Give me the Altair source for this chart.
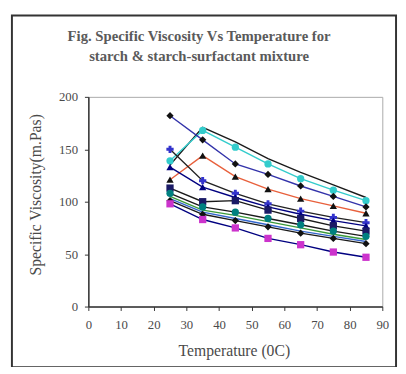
import altair as alt
import pandas as pd

temps = [25, 35, 45, 55, 65, 75, 85]

s01 = [135, 171, 157, 141, 128, 116, 104]
s02 = [139, 168, 152, 136, 122, 111, 101]
s03 = [182, 159, 136, 126, 115, 105, 95]
s04 = [121, 144, 124, 112, 103, 96, 89]
s05 = [150, 120, 108, 98, 91, 85, 80]
s06 = [133, 114, 104, 95, 88, 82, 77]
s07 = [113, 100, 101, 92, 84, 77, 72]
s08 = [108, 95, 90, 84, 78, 72, 67]
s09 = [105, 92, 87, 81, 75, 69, 64]
s10 = [103, 90, 84, 78, 72, 67, 62]
s11 = [101, 88, 82, 76, 70, 65, 60]
s12 = [98, 83, 75, 65, 59, 52, 47]

x_ticks = [0, 10, 20, 30, 40, 50, 60, 70, 80, 90]
y_ticks = [0, 50, 100, 150, 200]

names = ["s01", "s02", "s03", "s04", "s05", "s06", "s07", "s08", "s09", "s10", "s11", "s12"]
values = [s01, s02, s03, s04, s05, s06, s07, s08, s09, s10, s11, s12]
line_colors = ["#1a1a1a", "#33cccc", "#3333aa", "#e8603c", "#222222", "#000080",
               "#1a1a1a", "#1a1a1a", "#3a9a3a", "#3366cc", "#1a1a1a", "#000080"]
marker_colors = ["none", "#33cccc", "#111111", "#111111", "#3333cc", "#000080",
                 "#1a1a66", "#008080", "none", "none", "#111111", "#cc33cc"]
marker_shapes = ["circle", "circle", "diamond", "triangle-up", "cross", "triangle-up",
                 "square", "circle", "circle", "circle", "diamond", "square"]

rows = []
for n, vals in zip(names, values):
    for t, v in zip(temps, vals):
        rows.append({"series": n, "temp": t, "visc": v})
df = pd.DataFrame(rows)
pnames = [n for n, m in zip(names, marker_colors) if m != "none"]
pcolors = [m for m in marker_colors if m != "none"]
pshapes = [s for s, m in zip(marker_shapes, marker_colors) if m != "none"]
pts = df[df["series"].isin(pnames)]

FONT = "Liberation Serif"
TXT = "#4a4a4a"

xaxis = alt.Axis(values=x_ticks, title=None, grid=False, tickCount=10,
                 labelOverlap=False, labelFlush=False,
                 domainColor="#333", domainWidth=1.5, tickColor="#333",
                 tickSize=4, labelPadding=8, labelFont=FONT, labelFontSize=13,
                 labelColor=TXT)
yaxis = alt.Axis(values=y_ticks, title=None, grid=False,
                 labelOverlap=False, labelFlush=False,
                 domainColor="#333", domainWidth=1.5, tickColor="#333",
                 tickSize=4, labelPadding=7, labelFont=FONT, labelFontSize=13,
                 labelColor=TXT)
xscale = alt.Scale(domain=[0, 90], nice=False)
yscale = alt.Scale(domain=[0, 200], nice=False)

lines = alt.Chart(df).mark_line(strokeWidth=1.4).encode(
    x=alt.X("temp:Q", scale=xscale, axis=xaxis),
    y=alt.Y("visc:Q", scale=yscale, axis=yaxis),
    color=alt.Color("series:N", scale=alt.Scale(domain=names, range=line_colors), legend=None),
    detail="series:N",
)
points = alt.Chart(pts).mark_point(filled=True, size=55, opacity=1).encode(
    x=alt.X("temp:Q", scale=xscale, axis=xaxis),
    y=alt.Y("visc:Q", scale=yscale, axis=yaxis),
    fill=alt.Fill("series:N", scale=alt.Scale(domain=pnames, range=pcolors), legend=None),
    shape=alt.Shape("series:N", scale=alt.Scale(domain=pnames, range=pshapes), legend=None),
)

one = pd.DataFrame({"a": [0]})
frame = alt.Chart(one).mark_rect(filled=False, stroke="#333", strokeWidth=2).encode(
    x=alt.value(-78), x2=alt.value(314), y=alt.value(-83), y2=alt.value(276))

t1 = alt.Chart(one).mark_text(font=FONT, fontSize=15, fontWeight="bold", color="#5a5a5a").encode(
    x=alt.value(113), y=alt.value(-62), text=alt.value("Fig.  Specific Viscosity Vs Temperature for"))
t2 = alt.Chart(one).mark_text(font=FONT, fontSize=15, fontWeight="bold", color="#5a5a5a").encode(
    x=alt.value(113), y=alt.value(-42), text=alt.value("starch & starch-surfactant mixture"))
xt = alt.Chart(one).mark_text(font=FONT, fontSize=16, color=TXT).encode(
    x=alt.value(149), y=alt.value(259), text=alt.value("Temperature (0C)"))
yt = alt.Chart(one).mark_text(font=FONT, fontSize=16, color=TXT, angle=270).encode(
    x=alt.value(-53), y=alt.value(100), text=alt.value("Specific Viscosity(m.Pas)"))

chart = alt.layer(frame, lines, points, t1, t2, xt, yt).properties(
    width=300, height=214,
    autosize=alt.AutoSizeParams(type="none"),
    padding={"left": 82, "top": 87, "right": 16, "bottom": 58},
    background="white",
).configure_view(stroke="#aaaaaa", strokeWidth=1)

chart.save("out.html", embed_options={"renderer": "svg", "actions": False})
